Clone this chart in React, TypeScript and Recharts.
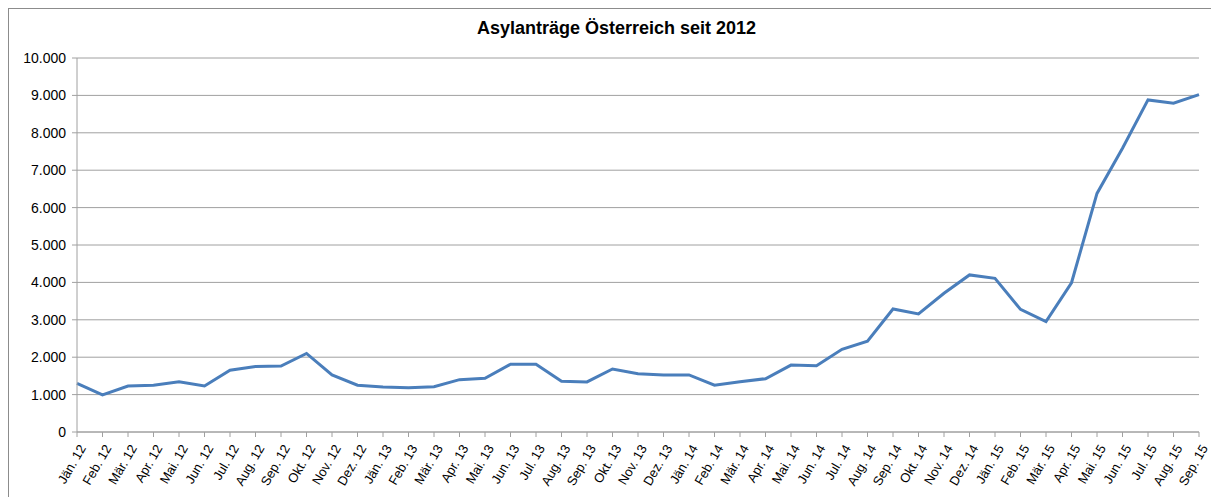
import { LineChart, Line, XAxis, YAxis, CartesianGrid } from "recharts"

const months = [
    "Jän. 12", "Feb. 12", "Mär. 12", "Apr. 12", "Mai. 12", "Jun. 12", "Jul. 12", "Aug. 12", "Sep. 12", "Okt. 12", "Nov. 12", "Dez. 12",
    "Jän. 13", "Feb. 13", "Mär. 13", "Apr. 13", "Mai. 13", "Jun. 13", "Jul. 13", "Aug. 13", "Sep. 13", "Okt. 13", "Nov. 13", "Dez. 13",
    "Jän. 14", "Feb. 14", "Mär. 14", "Apr. 14", "Mai. 14", "Jun. 14", "Jul. 14", "Aug. 14", "Sep. 14", "Okt. 14", "Nov. 14", "Dez. 14",
    "Jän. 15", "Feb. 15", "Mär. 15", "Apr. 15", "Mai. 15", "Jun. 15", "Jul. 15", "Aug. 15", "Sep. 15",
]

const applications = [
    1300, 990, 1230, 1250, 1340, 1230, 1650, 1750, 1765, 2100, 1525, 1250,
    1200, 1185, 1210, 1400, 1435, 1810, 1810, 1355, 1340, 1685, 1560, 1525,
    1525, 1250, 1345, 1425, 1790, 1770, 2210, 2430, 3290, 3155, 3710, 4200,
    4110, 3280, 2950, 3990, 6380, 7585, 8880, 8790, 9020,
]

const yTicks = [0, 1000, 2000, 3000, 4000, 5000, 6000, 7000, 8000, 9000, 10000]

const chartData = months.map((m, i) => ({ month: m, value: applications[i] }))

const FONT = "'Liberation Sans', Arial, sans-serif"

// 10000 -> "10.000"
function formatThousands(v: number): string {
    return String(v).replace(/\B(?=(\d{3})+(?!\d))/g, ".")
}

// eslint-disable-next-line @typescript-eslint/no-explicit-any
function MonthTick({ x, y, payload }: any) {
    return (
        <g transform={`translate(${x},${y + 7})`}>
            <text
                x={0}
                y={0}
                dx={3}
                dy={9}
                textAnchor="end"
                fill="#000"
                fontSize={13}
                fontFamily={FONT}
                transform="rotate(-60)"
            >
                {payload.value}
            </text>
        </g>
    )
}

export default function App() {
    return (
        <div
            style={{
                width: 1211,
                height: 489,
                borderLeft: "1px solid #8c8c8c",
                borderTop: "1px solid #8c8c8c",
                position: "relative",
                background: "#fff",
                fontFamily: FONT,
            }}
        >
            <style>{`html,body{overflow:hidden}`}</style>
            <div
                style={{
                    position: "absolute",
                    top: 9,
                    left: 0,
                    width: 1215,
                    textAlign: "center",
                    fontWeight: "bold",
                    fontSize: 18,
                    color: "#000",
                }}
            >
                Asylanträge Österreich seit 2012
            </div>
            <LineChart
                width={1208}
                height={481}
                data={chartData}
                margin={{ top: 49, right: 18, left: 0, bottom: 0 }}
            >
                <CartesianGrid horizontal vertical={false} stroke="#a0a0a0" strokeWidth={1} />
                <XAxis
                    dataKey="month"
                    interval={0}
                    height={58}
                    tick={MonthTick}
                    tickLine={{ stroke: "#a0a0a0" }}
                    tickSize={5}
                    axisLine={{ stroke: "#a0a0a0" }}
                />
                <YAxis
                    width={68}
                    domain={[0, 10000]}
                    ticks={yTicks}
                    interval={0}
                    tickFormatter={formatThousands}
                    tick={{ fill: "#000", fontSize: 14, fontFamily: FONT }}
                    tickLine={{ stroke: "#a0a0a0" }}
                    tickSize={5}
                    tickMargin={6}
                    axisLine={{ stroke: "#a0a0a0" }}
                />
                <Line
                    type="linear"
                    dataKey="value"
                    stroke="#4a7ebb"
                    strokeWidth={3}
                    dot={false}
                    isAnimationActive={false}
                />
            </LineChart>
        </div>
    )
}
